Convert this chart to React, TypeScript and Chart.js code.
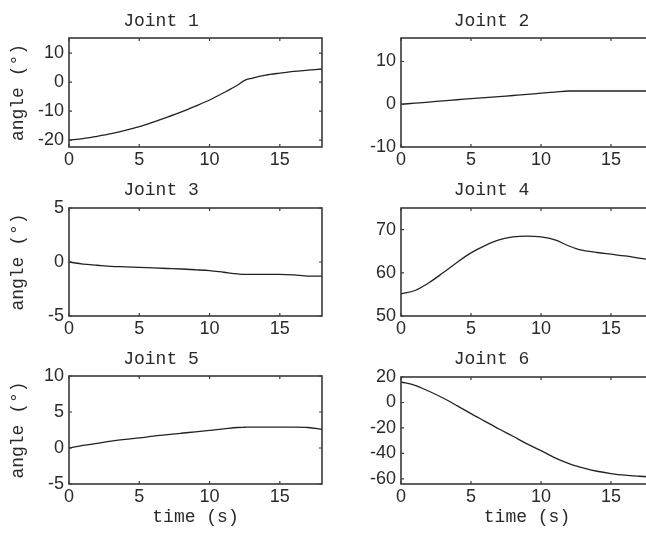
import React, { useEffect, useRef } from "react";
import { Chart, registerables } from "chart.js";

Chart.register(...registerables);

// ---- data ----
const time = [0, 1, 2, 3, 4, 5, 6, 7, 8, 9, 10, 11, 12, 12.5, 13, 14, 15, 16, 17, 18];
const joint1 = [-20, -19.5, -18.7, -17.8, -16.7, -15.4, -13.8, -12.1, -10.3, -8.3, -6.2, -3.7, -1.0, 0.6, 1.3, 2.4, 3.1, 3.7, 4.1, 4.5];
const joint2 = [0, 0.25, 0.5, 0.8, 1.05, 1.3, 1.55, 1.8, 2.05, 2.3, 2.6, 2.85, 3.1, 3.1, 3.1, 3.1, 3.1, 3.1, 3.1, 3.1];
const joint3 = [0, -0.2, -0.3, -0.4, -0.45, -0.5, -0.55, -0.6, -0.65, -0.72, -0.8, -0.95, -1.1, -1.15, -1.15, -1.15, -1.15, -1.2, -1.3, -1.3];
const joint4 = [55.1, 55.9, 57.7, 60.0, 62.4, 64.6, 66.3, 67.6, 68.3, 68.5, 68.3, 67.6, 66.2, 65.6, 65.2, 64.7, 64.3, 63.9, 63.4, 62.9];
const joint5 = [0, 0.35, 0.65, 0.95, 1.2, 1.4, 1.65, 1.85, 2.05, 2.25, 2.45, 2.65, 2.85, 2.88, 2.9, 2.9, 2.9, 2.9, 2.85, 2.6];
const joint6 = [16.1, 13.5, 8.8, 3.5, -2.5, -8.8, -14.8, -20.8, -26.5, -32.5, -37.8, -43.5, -48, -49.8, -51.4, -54, -55.8, -57.1, -57.9, -58.5];

const titles = ["Joint 1", "Joint 2", "Joint 3", "Joint 4", "Joint 5", "Joint 6"];
const xTicks = [0, 5, 10, 15];
const yTicks1 = [-20, -10, 0, 10];
const yTicks2 = [-10, 0, 10];
const yTicks3 = [-5, 0, 5];
const yTicks4 = [50, 60, 70];
const yTicks5 = [-5, 0, 5, 10];
const yTicks6 = [-60, -40, -20, 0, 20];
const yLabel = "angle (°)";
const xLabel = "time (s)";

const xRange = [0, 18];
const yRanges = [
  [-22.4, 15.2],
  [-10, 15.5],
  [-5, 5],
  [50, 75],
  [-5, 10],
  [-64, 20],
];

// ---- layout (absolute page pixels) ----
type Panel = {
  data: number[];
  yTicks: number[];
  title: string;
  yRange: number[];
  cl: number; ct: number; cw: number; ch: number; // canvas box
  L: number; T: number; R: number; B: number; // plot area
  titleY: number;
  yLab: boolean;
  xLab: boolean;
};

const monoFont = "'Liberation Mono', 'DejaVu Sans Mono', monospace";
const tickFont = "'Liberation Sans', Arial, sans-serif";
const TITLE_SIZE = 18;
const LABEL_SIZE = 18;
const TICK_SIZE = 18;
const X_LABEL_Y = 517; // page y of x-label centre
const Y_LABEL_X = 18; // page x of y-label centre

const panels: Panel[] = [
  { data: joint1, yTicks: yTicks1, title: titles[0], yRange: yRanges[0], cl: 0, ct: 0, cw: 330, ch: 170, L: 69, T: 38, R: 322, B: 147, titleY: 21.5, yLab: true, xLab: false },
  { data: joint2, yTicks: yTicks2, title: titles[1], yRange: yRanges[1], cl: 330, ct: 0, cw: 330, ch: 170, L: 401, T: 38, R: 653, B: 147, titleY: 21.5, yLab: false, xLab: false },
  { data: joint3, yTicks: yTicks3, title: titles[2], yRange: yRanges[2], cl: 0, ct: 170, cw: 330, ch: 170, L: 69, T: 208, R: 322, B: 316, titleY: 190, yLab: true, xLab: false },
  { data: joint4, yTicks: yTicks4, title: titles[3], yRange: yRanges[3], cl: 330, ct: 170, cw: 330, ch: 170, L: 401, T: 208, R: 653, B: 316, titleY: 190, yLab: false, xLab: false },
  { data: joint5, yTicks: yTicks5, title: titles[4], yRange: yRanges[4], cl: 0, ct: 340, cw: 330, ch: 196, L: 69, T: 376, R: 322, B: 484, titleY: 359, yLab: true, xLab: true },
  { data: joint6, yTicks: yTicks6, title: titles[5], yRange: yRanges[5], cl: 330, ct: 340, cw: 330, ch: 196, L: 401, T: 377, R: 653, B: 484, titleY: 359, yLab: false, xLab: true },
];

const INK = "#2a2a2a";

const framePlugin = {
  id: "matlabFrame",
  afterDatasetsDraw(chart: any) {
    const { ctx, chartArea } = chart;
    const { left, top, right, bottom } = chartArea;
    const xs = chart.scales.x;
    const ys = chart.scales.y;
    ctx.save();
    ctx.strokeStyle = "#3a3a3a";
    ctx.lineWidth = 1.6;
    ctx.strokeRect(left, top, right - left, bottom - top);
    ctx.lineWidth = 1.2;
    ctx.beginPath();
    xs.ticks.forEach((t: any) => {
      const px = xs.getPixelForValue(t.value);
      ctx.moveTo(px, bottom);
      ctx.lineTo(px, bottom - 3);
      ctx.moveTo(px, top);
      ctx.lineTo(px, top + 3);
    });
    ys.ticks.forEach((t: any) => {
      const py = ys.getPixelForValue(t.value);
      ctx.moveTo(left, py);
      ctx.lineTo(left + 3, py);
      ctx.moveTo(right, py);
      ctx.lineTo(right - 3, py);
    });
    ctx.stroke();
    ctx.restore();
  },
};

function JointChart({ p }: { p: Panel }) {
  const ref = useRef<HTMLCanvasElement | null>(null);
  useEffect(() => {
    if (!ref.current) return;
    const titleLH = TITLE_SIZE * 1.2;
    const titleH = p.T - p.ct;
    const titlePadTop = p.titleY - p.ct - titleLH / 2;
    const titlePadBottom = titleH - titleLH - titlePadTop;
    const yAxisW = p.L - p.cl;
    const xAxisH = p.ct + p.ch - p.B;
    const padRight = p.cl + p.cw - p.R;
    const labLH = LABEL_SIZE * 1.2;
    const xLabPadBottom = p.ct + p.ch - X_LABEL_Y - labLH / 2;
    const yLabPadTop = Y_LABEL_X - p.cl - labLH / 2;

    const chart = new Chart(ref.current, {
      type: "line",
      data: {
        datasets: [
          {
            data: time.map((t, i) => ({ x: t, y: p.data[i] })),
            borderColor: "#222",
            borderWidth: 1.3,
            pointRadius: 0,
            cubicInterpolationMode: "monotone",
            fill: false,
          },
        ],
      },
      options: {
        animation: false,
        responsive: false,
        devicePixelRatio: 1,
        layout: { padding: { left: 0, top: 0, right: padRight, bottom: 0 } },
        plugins: {
          legend: { display: false },
          tooltip: { enabled: false },
          title: {
            display: true,
            text: p.title,
            color: INK,
            font: { family: monoFont, size: TITLE_SIZE, weight: "normal", lineHeight: 1.2 },
            padding: { top: titlePadTop, bottom: titlePadBottom },
          },
        },
        scales: {
          x: {
            type: "linear",
            min: xRange[0],
            max: xRange[1],
            grid: { display: false, drawTicks: false },
            border: { display: false },
            afterBuildTicks: (s: any) => {
              s.ticks = xTicks.map((v) => ({ value: v }));
            },
            afterFit: (s: any) => {
              s.height = xAxisH;
            },
            ticks: {
              color: INK,
              padding: 2,
              maxRotation: 0,
              autoSkip: false,
              font: { family: tickFont, size: TICK_SIZE, lineHeight: 1.2 },
            },
            title: {
              display: p.xLab,
              text: xLabel,
              color: INK,
              font: { family: monoFont, size: LABEL_SIZE, lineHeight: 1.2 },
              padding: { top: 0, bottom: xLabPadBottom },
            },
          },
          y: {
            type: "linear",
            min: p.yRange[0],
            max: p.yRange[1],
            grid: { display: false, drawTicks: false },
            border: { display: false },
            afterBuildTicks: (s: any) => {
              s.ticks = p.yTicks.map((v) => ({ value: v }));
            },
            afterFit: (s: any) => {
              s.width = yAxisW;
            },
            ticks: {
              color: INK,
              padding: 5,
              autoSkip: false,
              font: { family: tickFont, size: TICK_SIZE, lineHeight: 1.2 },
            },
            title: {
              display: p.yLab,
              text: yLabel,
              color: INK,
              font: { family: monoFont, size: LABEL_SIZE, lineHeight: 1.2 },
              padding: { top: yLabPadTop, bottom: 0 },
            },
          },
        },
      },
      plugins: [framePlugin],
    } as any);
    return () => chart.destroy();
  }, [p]);

  return (
    <canvas
      ref={ref}
      width={p.cw}
      height={p.ch}
      style={{ position: "absolute", left: p.cl, top: p.ct, width: p.cw, height: p.ch }}
    />
  );
}

export default function App() {
  return (
    <div
      style={{
        position: "fixed",
        left: 0,
        top: 0,
        width: 646,
        height: 536,
        overflow: "hidden",
        background: "#fff",
      }}
    >
      {panels.map((p, i) => (
        <JointChart key={i} p={p} />
      ))}
    </div>
  );
}
